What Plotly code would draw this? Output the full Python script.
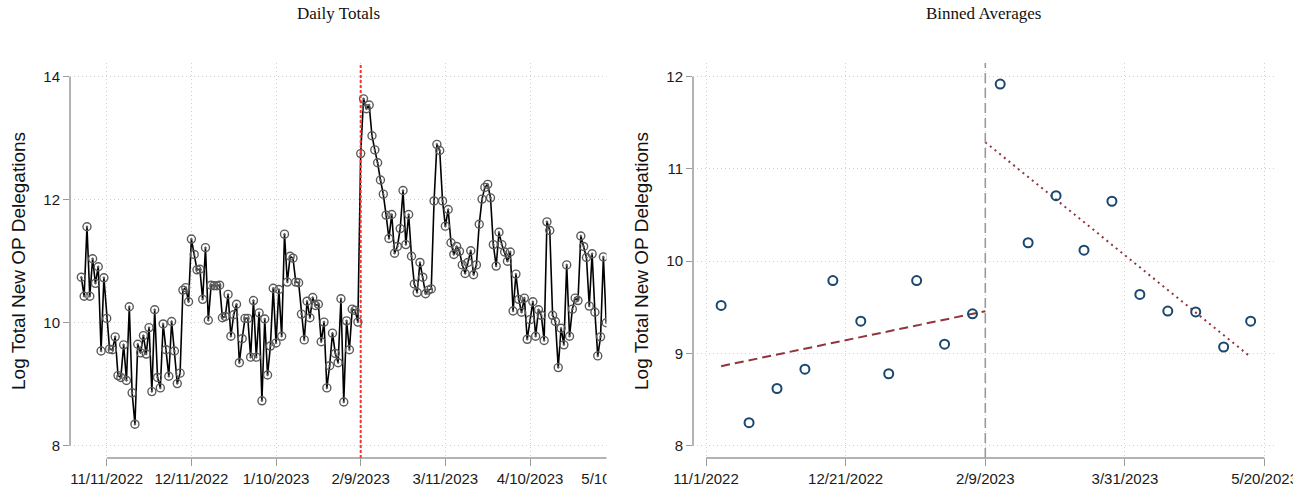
import numpy as np
import pandas as pd
import plotly.graph_objects as go

# ---------------- data ----------------
daily_start = "2022-11-02"
daily_log_total = [
    10.74, 10.43, 11.56, 10.43, 11.04, 10.64, 10.91, 9.54, 10.73, 10.07,
    9.57, 9.56, 9.77, 9.14, 9.11, 9.64, 9.06, 10.26, 8.86, 8.35,
    9.65, 9.51, 9.79, 9.49, 9.92, 8.88, 10.21, 9.11, 8.94, 9.98,
    9.56, 9.13, 10.02, 9.54, 9.01, 9.18, 10.53, 10.57, 10.34, 11.36,
    11.11, 10.86, 10.87, 10.38, 11.22, 10.04, 10.61, 10.60, 10.60, 10.61,
    10.08, 10.10, 10.46, 9.78, 10.13, 10.30, 9.35, 9.74, 10.07, 10.07,
    9.44, 10.36, 9.44, 10.16, 8.73, 10.06, 9.15, 9.62, 10.56, 9.67,
    10.54, 9.78, 11.44, 10.66, 11.08, 11.05, 10.66, 10.65, 10.14, 9.72,
    10.35, 10.08, 10.41, 10.28, 10.30, 9.69, 10.01, 8.94, 9.30, 9.83,
    9.50, 9.35, 10.39, 8.71, 10.03, 9.56, 10.22, 10.20, 10.01, 12.75,
    13.64, 13.48, 13.54, 13.04, 12.81, 12.60, 12.32, 12.09, 11.75, 11.37,
    11.76, 11.13, 11.24, 11.53, 12.15, 11.27, 11.76, 11.08, 10.63, 10.49,
    10.98, 10.74, 10.47, 10.53, 10.55, 11.98, 12.90, 12.80, 11.98, 11.57,
    11.84, 11.30, 11.11, 11.24, 11.16, 10.94, 10.80, 10.98, 11.17, 10.78,
    10.94, 11.60, 12.01, 12.20, 12.25, 12.03, 11.27, 10.92, 11.47, 11.27,
    11.15, 11.00, 11.15, 10.19, 10.79, 10.38, 10.17, 10.40, 9.73, 10.05,
    10.34, 9.78, 10.21, 10.12, 9.71, 11.64, 11.50, 10.12, 10.02, 9.27,
    9.91, 9.64, 10.94, 9.78, 10.22, 10.40, 10.36, 11.41, 11.24, 11.06,
    10.27, 11.12, 10.17, 9.46, 9.77, 11.07, 10.00,
]
cutoff_date = "2023-02-09"

bin_dates_pre = [
    "2022-11-06 10:00", "2022-11-16 10:00", "2022-11-26 10:00", "2022-12-06 10:00",
    "2022-12-16 10:00", "2022-12-26 10:00", "2023-01-05 10:00", "2023-01-15 10:00",
    "2023-01-25 10:00", "2023-02-04 10:00",
]
bin_values_pre = [9.52, 8.25, 8.62, 8.83, 9.79, 9.35, 8.78, 9.79, 9.10, 9.43]
bin_dates_post = [
    "2023-02-14 08:00", "2023-02-24 08:00", "2023-03-06 08:00", "2023-03-16 08:00",
    "2023-03-26 08:00", "2023-04-05 08:00", "2023-04-15 08:00", "2023-04-25 08:00",
    "2023-05-05 08:00", "2023-05-15 00:00",
]
bin_values_post = [11.92, 10.20, 10.71, 10.12, 10.65, 9.64, 9.46, 9.45, 9.07, 9.35]

left_tick_dates = ["2022-11-11", "2022-12-11", "2023-01-10", "2023-02-09",
                   "2023-03-11", "2023-04-10", "2023-05-10"]
left_tick_labels = ["11/11/2022", "12/11/2022", "1/10/2023", "2/9/2023",
                    "3/11/2023", "4/10/2023", "5/10/2023"]
left_y_ticks = [8, 10, 12, 14]
right_tick_dates = ["2022-11-01", "2022-12-21", "2023-02-09", "2023-03-31", "2023-05-20"]
right_tick_labels = ["11/1/2022", "12/21/2022", "2/9/2023", "3/31/2023", "5/20/2023"]
right_y_ticks = [8, 9, 10, 11, 12]

y_title = "Log Total New OP Delegations"
left_title = "Daily Totals"
right_title = "Binned Averages"

# ---------------- layout helpers ----------------
W, H = 1311, 487


def px_x(p):
    return p / W


def px_y(p):
    return 1 - p / H


def tstr(ts):
    return ts.strftime("%Y-%m-%d %H:%M:%S")


cut = pd.Timestamp(cutoff_date)
daily_dates = pd.date_range(daily_start, periods=len(daily_log_total), freq="D")

# left panel geometry
L_X0, L_X1, L_CUT, L_PPD = 70, 620, 360.7, 2.822
left_xrange = [tstr(cut - pd.Timedelta(days=(L_CUT - L_X0) / L_PPD)),
               tstr(cut + pd.Timedelta(days=(L_X1 - L_CUT) / L_PPD))]
TOP, BOT = 63, 458
L_Y8, L_PPU = 445.7, 61.5
left_yrange = [8 - (BOT - L_Y8) / L_PPU, 8 + (L_Y8 - TOP) / L_PPU]

# right panel geometry
R_X0, R_X1, R_CUT, R_PPD = 693, 1274, 985.3, 2.793
right_xrange = [tstr(cut - pd.Timedelta(days=(R_CUT - R_X0) / R_PPD)),
                tstr(cut + pd.Timedelta(days=(R_X1 - R_CUT) / R_PPD))]
R_Y8, R_PPU = 445.7, 92.25
right_yrange = [8 - (BOT - R_Y8) / R_PPU, 8 + (R_Y8 - TOP) / R_PPU]

# linear fits either side of the cutoff
pre_days = ((pd.to_datetime(bin_dates_pre) - cut) / pd.Timedelta(days=1)).to_numpy()
post_days = ((pd.to_datetime(bin_dates_post) - cut) / pd.Timedelta(days=1)).to_numpy()
pre_fit = np.polyfit(pre_days, bin_values_pre, 1)
post_fit = np.polyfit(post_days, bin_values_post, 1)
pre_line_d = np.array([pre_days[0], 0.0])
post_line_d = np.array([0.0, post_days[-1]])
pre_line_x = [tstr(cut + pd.Timedelta(days=float(d))) for d in pre_line_d]
post_line_x = [tstr(cut + pd.Timedelta(days=float(d))) for d in post_line_d]

AXIS_COL = "#9a9a9a"
GRID_COL = "#cfcfcf"
TICK_FONT = dict(family="Liberation Sans, Arial, sans-serif", size=15, color="#1a1a1a")
FIT_COL = "#90353b"
MARK_COL = "#1a476f"

fig = go.Figure()

fig.add_trace(go.Scatter(
    x=daily_dates, y=daily_log_total, mode="lines+markers",
    line=dict(color="black", width=1.6),
    marker=dict(symbol="circle-open-dot", size=8, color="#5a5a5a", line=dict(width=1.4)),
    xaxis="x", yaxis="y", hoverinfo="x+y",
))

fig.add_trace(go.Scatter(
    x=pre_line_x, y=np.polyval(pre_fit, pre_line_d), mode="lines",
    line=dict(color=FIT_COL, width=2, dash="9px,5px"), xaxis="x2", yaxis="y2",
))
fig.add_trace(go.Scatter(
    x=post_line_x, y=np.polyval(post_fit, post_line_d), mode="lines",
    line=dict(color=FIT_COL, width=2, dash="2px,4px"), xaxis="x2", yaxis="y2",
))
for bx, by in ((bin_dates_pre, bin_values_pre), (bin_dates_post, bin_values_post)):
    fig.add_trace(go.Scatter(
        x=bx, y=by, mode="markers",
        marker=dict(symbol="circle-open", size=9, color=MARK_COL, line=dict(width=2)),
        xaxis="x2", yaxis="y2",
    ))

common_x = dict(type="date", showline=False, zeroline=False, showgrid=True,
                gridcolor=GRID_COL, griddash="1px,3px", gridwidth=1, automargin=False,
                ticks="outside", ticklen=7, tickwidth=1.3, tickcolor=AXIS_COL,
                tickfont=TICK_FONT, fixedrange=True)
common_y = dict(showline=False, zeroline=False, showgrid=True, automargin=False,
                gridcolor=GRID_COL, griddash="1px,3px", gridwidth=1,
                ticks="outside", ticklen=6, tickwidth=1.3, tickcolor=AXIS_COL,
                tickfont=TICK_FONT, fixedrange=True)

fig.update_layout(
    template="none",
    width=W, height=H, margin=dict(l=0, r=0, t=0, b=0, pad=0), autosize=False,
    paper_bgcolor="white", plot_bgcolor="white", showlegend=False,
    font=dict(family="Liberation Sans, Arial, sans-serif", color="#1a1a1a"),
    xaxis=dict(common_x, domain=[px_x(L_X0), px_x(L_X1)], range=left_xrange,
               tickvals=left_tick_dates, ticktext=left_tick_labels, anchor="y"),
    yaxis=dict(common_y, domain=[px_y(BOT), px_y(TOP)], range=left_yrange,
               tickvals=left_y_ticks, anchor="x"),
    xaxis2=dict(common_x, domain=[px_x(R_X0), px_x(R_X1)], range=right_xrange,
                tickvals=right_tick_dates, ticktext=right_tick_labels, anchor="y2"),
    yaxis2=dict(common_y, domain=[px_y(BOT), px_y(TOP)], range=right_yrange,
                tickvals=right_y_ticks, anchor="x2"),
)

shapes = [
    # axis lines
    dict(type="line", xref="paper", yref="y", x0=px_x(L_X0), x1=px_x(L_X0),
         y0=left_y_ticks[0], y1=left_y_ticks[-1], line=dict(color=AXIS_COL, width=1.5)),
    dict(type="line", xref="x", yref="paper", x0=left_tick_dates[0],
         x1=tstr(daily_dates[-1] + pd.Timedelta(hours=8)), y0=px_y(BOT), y1=px_y(BOT),
         line=dict(color=AXIS_COL, width=1.5)),
    dict(type="line", xref="paper", yref="y2", x0=px_x(R_X0), x1=px_x(R_X0),
         y0=right_y_ticks[0], y1=right_y_ticks[-1], line=dict(color=AXIS_COL, width=1.5)),
    dict(type="line", xref="x2", yref="paper", x0=right_tick_dates[0],
         x1=right_tick_dates[-1], y0=px_y(BOT), y1=px_y(BOT),
         line=dict(color=AXIS_COL, width=1.5)),
    # cutoff lines
    dict(type="line", xref="x", yref="paper", x0=cutoff_date, x1=cutoff_date,
         y0=px_y(BOT), y1=px_y(TOP), line=dict(color="#ff3030", width=2, dash="3px,2px")),
    dict(type="line", xref="x2", yref="paper", x0=cutoff_date, x1=cutoff_date,
         y0=px_y(BOT), y1=px_y(TOP), line=dict(color="#9a9a9a", width=1.6, dash="10px,5px")),
    # clipping of the left panel edge and cut tick labels
    dict(type="rect", xref="paper", yref="paper", layer="above",
         x0=px_x(606.5), x1=px_x(624), y0=px_y(460), y1=px_y(50),
         fillcolor="white", line=dict(width=0)),
    dict(type="rect", xref="paper", yref="paper", layer="above",
         x0=px_x(606.5), x1=px_x(662), y0=0, y1=px_y(460),
         fillcolor="white", line=dict(width=0)),
    dict(type="rect", xref="paper", yref="paper", layer="above",
         x0=px_x(1293), x1=1, y0=0, y1=px_y(460),
         fillcolor="white", line=dict(width=0)),
]
fig.update_layout(shapes=shapes)

TITLE_FONT = dict(family="Liberation Serif, Times New Roman, serif", size=17, color="#111")
YT_FONT = dict(family="Liberation Sans, Arial, sans-serif", size=19, color="#111")
fig.update_layout(annotations=[
    dict(text=left_title, xref="paper", yref="paper", x=px_x(338), y=px_y(13),
         showarrow=False, font=TITLE_FONT, xanchor="center", yanchor="middle"),
    dict(text=right_title, xref="paper", yref="paper", x=px_x(983), y=px_y(13),
         showarrow=False, font=TITLE_FONT, xanchor="center", yanchor="middle"),
    dict(text=y_title, xref="paper", yref="paper", x=px_x(18), y=px_y(261),
         showarrow=False, font=YT_FONT, textangle=-90, xanchor="center", yanchor="middle"),
    dict(text=y_title, xref="paper", yref="paper", x=px_x(641), y=px_y(261),
         showarrow=False, font=YT_FONT, textangle=-90, xanchor="center", yanchor="middle"),
])

fig.write_html("out.html", post_script="document.body.style.margin='0';",
               config={"displayModeBar": False})
